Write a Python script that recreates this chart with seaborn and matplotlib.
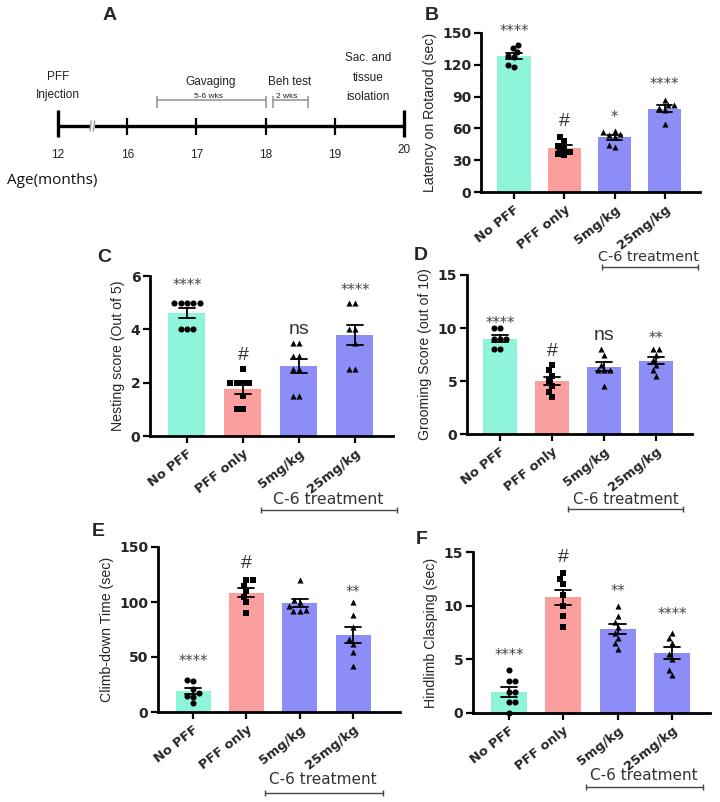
import matplotlib
matplotlib.use('Agg')
import matplotlib.pyplot as plt
import seaborn as sns
import pandas as pd
import numpy as np
from matplotlib.lines import Line2D

sns.set_theme(style='ticks')
plt.rcParams['font.family'] = ['Liberation Sans', 'DejaVu Sans']

# ---------------- data ----------------
groups = ['No PFF', 'PFF only', '5mg/kg', '25mg/kg']
treatment_label = 'C-6 treatment'

# B: Latency on Rotarod (sec)
rotarod_nopff = [139, 136, 132, 128, 127, 118, 120]
rotarod_pff = [52, 48, 43, 41, 36, 38, 35]
rotarod_5mg = [58, 57, 54, 52, 42, 44, 55]
rotarod_25mg = [87, 82, 82, 79, 77, 64]
rotarod_sig = ['****', '#', '*', '****']

# C: Nesting score (Out of 5)
nesting_nopff = [5, 5, 5, 5, 5, 4, 4, 4]
nesting_pff = [2.5, 2, 2, 2, 2, 1.5, 1, 1]
nesting_5mg = [3.5, 3.5, 3, 3, 2.5, 2.5, 1.5, 1.5]
nesting_25mg = [5, 5, 4, 4, 3.5, 2.5, 2.5]
nesting_sig = ['****', '#', 'ns', '****']

# D: Grooming Score (out of 10)
grooming_nopff = [10, 10, 9, 9, 9, 8, 8]
grooming_pff = [6.5, 6, 5.5, 5, 4.5, 4, 3.5]
grooming_5mg = [8, 7.5, 6.5, 6, 6, 6, 4.5]
grooming_25mg = [8, 8, 7.5, 7, 6.5, 6, 5.5]
grooming_sig = ['****', '#', 'ns', '**']

# E: Climb-down Time (sec)
climb_nopff = [29, 28, 21, 17, 15, 14, 8]
climb_pff = [120, 120, 115, 110, 105, 100, 90]
climb_5mg = [120, 102, 100, 96, 92, 92, 93]
climb_25mg = [100, 88, 77, 66, 62, 55, 42]
climb_sig = ['****', '#', '', '**']

# F: Hindlimb Clasping (sec)
clasp_nopff = [4, 3, 3, 2, 2, 1, 1, 0]
clasp_pff = [13, 12.5, 12, 11, 10, 9, 8]
clasp_5mg = [10, 9, 8.5, 8, 7.5, 7, 6.5, 6]
clasp_25mg = [7.5, 7, 6.5, 5.5, 5, 4, 3.5]
clasp_sig = ['****', '#', '**', '****']

# A: timeline
months = [12, 16, 17, 18, 19, 20]

# ---------------- styles ----------------
palette = ['#8ef5da', '#fb9e9e', '#8d8df8', '#8d8df8']
markers = ['o', 's', '^', '^']

W, H = 720, 802
fig = plt.figure(figsize=(W / 100, H / 100), dpi=100)


def px_axes(l, t, r, b):
    return fig.add_axes([l / W, 1 - b / H, (r - l) / W, (b - t) / H])


def ftext(x, y, s, **kw):
    fig.text(x / W, 1 - y / H, s, **kw)


def c6_bracket(xc, yt, x1, x2, yl, fs=11):
    ftext(xc, yt, treatment_label, ha='center', va='center', fontsize=fs, color='#333333',
          family=['DejaVu Sans'])
    fig.add_artist(Line2D([x1 / W, x2 / W], [1 - yl / H, 1 - yl / H], transform=fig.transFigure,
                          color='#444444', lw=1.0, marker='|', markersize=4, markeredgewidth=1.0))


def panel(box, values, ylabel, yticks, xlim, sig, sig_y, letter, letter_xy, c6):
    ax = px_axes(*box)
    df = pd.DataFrame({'group': np.repeat(groups, [len(v) for v in values]),
                       'value': np.concatenate([np.asarray(v, float) for v in values])})
    sns.barplot(data=df, x='group', y='value', hue='group', order=groups, hue_order=groups,
                palette=palette, errorbar='se', capsize=0.3,
                err_kws={'color': 'black', 'linewidth': 1.3}, width=0.66, saturation=1,
                linewidth=0, legend=False, ax=ax)
    for g, m in zip(groups, markers):
        sns.swarmplot(data=df[df.group == g], x='group', y='value', order=groups, color='black',
                      marker=m, size=4.4, linewidth=0, ax=ax, zorder=4)
    for c in ax.collections:
        c.set_clip_on(False)
    ax.set_xlim(*xlim)
    ax.set_ylim(0, yticks[-1])
    ax.set_yticks(yticks)
    ax.set_yticklabels([str(t) for t in yticks], fontweight='bold', fontsize=10,
                       family=['DejaVu Sans'])
    ax.set_xticks(range(len(groups)))
    ax.set_xticklabels(groups, rotation=38, ha='right', rotation_mode='anchor',
                       fontweight='bold', fontsize=9.4, family=['DejaVu Sans'])
    ax.set_xlabel('')
    ax.set_ylabel(ylabel, fontsize=10.2, labelpad=4)
    sns.despine(ax=ax)
    for s in ['left', 'bottom']:
        ax.spines[s].set_linewidth(2)
        ax.spines[s].set_color('black')
    ax.tick_params(axis='both', direction='out', length=5, width=1.6, color='black', pad=2)
    ax.tick_params(axis='x', pad=3)
    for i, (s, y) in enumerate(zip(sig, sig_y)):
        if not s:
            continue
        if s.startswith('*'):
            ax.text(i, y, s, ha='center', va='center', fontsize=10.5, color='#444444',
                    family=['DejaVu Sans'])
        else:
            ax.text(i, y, s, ha='center', va='center', fontsize=14, color='#333333')
    ftext(*letter_xy, letter, fontsize=14, fontweight='bold', ha='center', va='center')
    c6_bracket(*c6)
    return ax


# B
panel((481, 33, 700, 192), [rotarod_nopff, rotarod_pff, rotarod_5mg, rotarod_25mg],
      'Latency on Rotarod (sec)', [0, 30, 60, 90, 120, 150], (-0.656, 3.70),
      rotarod_sig, [151, 66.5, 70.5, 101], 'B', (432, 15), (648, 257, 602, 698, 267, 10.4))
# C
panel((150, 276, 393, 436), [nesting_nopff, nesting_pff, nesting_5mg, nesting_25mg],
      'Nesting score (Out of 5)', [0, 2, 4, 6], (-0.66, 3.68),
      nesting_sig, [5.66, 3.0, 4.0, 5.45], 'C', (104, 257), (328, 499, 261, 397, 510, 11.3))
# D
panel((467, 275, 692, 434), [grooming_nopff, grooming_pff, grooming_5mg, grooming_25mg],
      'Grooming Score (out of 10)', [0, 5, 10, 15], (-0.635, 3.69),
      grooming_sig, [10.4, 7.8, 9.3, 9.0], 'D', (421, 256), (626, 499, 568, 683, 509, 10.8))
# E
panel((158, 547, 400, 712), [climb_nopff, climb_pff, climb_5mg, climb_25mg],
      'Climb-down Time (sec)', [0, 50, 100, 150], (-0.66, 3.88),
      climb_sig, [45.8, 135, 0, 109], 'E', (98, 532), (323, 780, 265, 383, 793, 11.0))
# F
panel((473, 552, 710, 713), [clasp_nopff, clasp_pff, clasp_5mg, clasp_25mg],
      'Hindlimb Clasping (sec)', [0, 5, 10, 15], (-0.66, 3.70),
      clasp_sig, [5.4, 14.5, 11.3, 9.2], 'F', (422, 540), (644, 776, 586, 703, 787, 11.0))

# ---------------- A: timeline ----------------
axA = px_axes(0, 0, 420, 200)
scale = 69.2
axA.set_xlim(-58 / scale, (420 - 58) / scale)
axA.set_ylim(200, 0)
axA.axis('off')
pos = np.arange(len(months))
narrow = ['Liberation Sans Narrow', 'Liberation Sans', 'DejaVu Sans']
axA.plot([pos[0], pos[-1]], [126, 126], color='black', lw=2.4, solid_capstyle='butt')
axA.vlines([pos[0], pos[-1]], 110, 137, color='black', lw=2.4)
axA.vlines(pos[1:-1], 118, 135, color='black', lw=1.6)
# axis break
axA.plot([0.47, 0.53], [126, 126], color='white', lw=4, solid_capstyle='butt')
axA.plot([0.46, 0.48], [131, 121], color='#999999', lw=1)
axA.plot([0.51, 0.53], [131, 121], color='#999999', lw=1)
for p, m in zip(pos, months):
    axA.text(p, 150 if m == months[-1] else 155, str(m), ha='center', va='center',
             fontsize=8.5, family=narrow, color='#222222')
# brackets
for x1, x2 in [(1.43, 3.0), (3.1, 3.61)]:
    axA.plot([x1, x2], [100, 100], color='#999999', lw=1.2)
    axA.vlines([x1, x2], 96, 108, color='#999999', lw=1.2)
tA = dict(ha='center', va='center', fontsize=8.5, family=narrow, color='#222222')
axA.text(0, 77, 'PFF', **tA)
axA.text(0, 95, 'Injection', **tA)
axA.text(2.2, 82, 'Gavaging', **tA)
axA.text(2.17, 96, '5-6 wks', **{**tA, 'fontsize': 6})
axA.text(3.34, 82, 'Beh test', **tA)
axA.text(3.31, 96, '2 wks', **{**tA, 'fontsize': 6})
axA.text(4.48, 58, 'Sac. and', **tA)
axA.text(4.48, 78, 'tissue', **tA)
axA.text(4.48, 97, 'isolation', **tA)
axA.text((7 - 58) / scale, 180, 'Age(months)', ha='left', va='center', fontsize=11,
         family=['Open Sans', 'DejaVu Sans'], color='#111111')
ftext(110, 15, 'A', fontsize=14, fontweight='bold', ha='center', va='center')

fig.savefig('out.png', dpi=100)
